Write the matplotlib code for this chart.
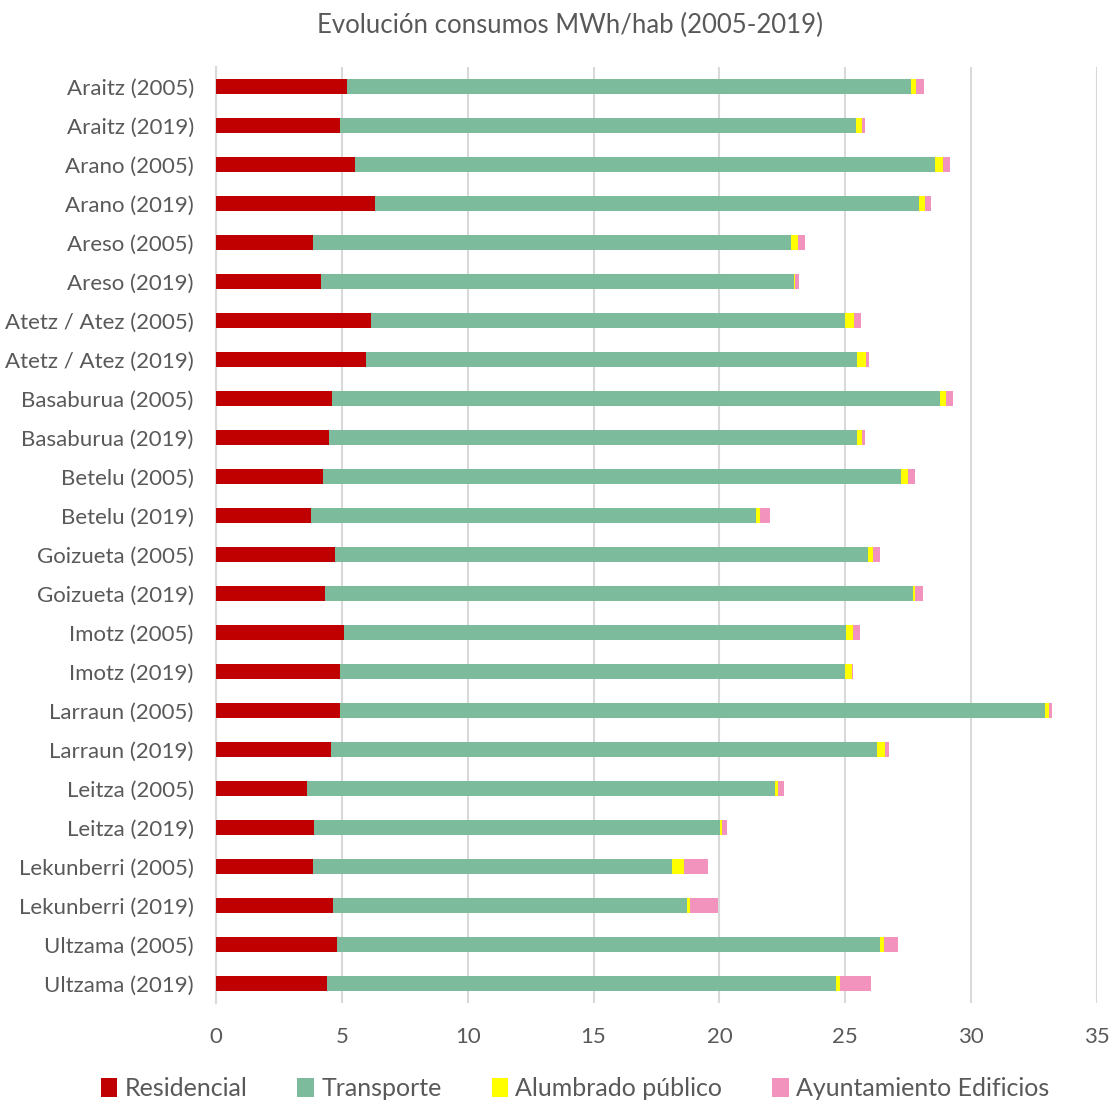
import matplotlib
matplotlib.use("Agg")
import matplotlib.pyplot as plt
import numpy as np

plt.rcParams['font.family'] = ['Lato', 'DejaVu Sans']

categories = [
    "Araitz (2005)", "Araitz (2019)", "Arano (2005)", "Arano (2019)",
    "Areso (2005)", "Areso (2019)", "Atetz / Atez (2005)", "Atetz / Atez (2019)",
    "Basaburua (2005)", "Basaburua (2019)", "Betelu (2005)", "Betelu (2019)",
    "Goizueta (2005)", "Goizueta (2019)", "Imotz (2005)", "Imotz (2019)",
    "Larraun (2005)", "Larraun (2019)", "Leitza (2005)", "Leitza (2019)",
    "Lekunberri (2005)", "Lekunberri (2019)", "Ultzama (2005)", "Ultzama (2019)",
]

residencial = [5.20, 4.93, 5.52, 6.30, 3.84, 4.19, 6.14, 5.96, 4.61, 4.49, 4.24, 3.79,
               4.73, 4.34, 5.09, 4.93, 4.94, 4.57, 3.63, 3.89, 3.85, 4.65, 4.79, 4.41]
transporte = [22.41, 20.51, 23.04, 21.64, 19.00, 18.76, 18.86, 19.51, 24.17, 20.98, 22.98, 17.66,
              21.17, 23.36, 19.93, 20.06, 28.00, 21.68, 18.58, 16.15, 14.27, 14.06, 21.59, 20.22]
alumbrado = [0.21, 0.21, 0.34, 0.21, 0.27, 0.05, 0.33, 0.34, 0.21, 0.20, 0.27, 0.16,
             0.20, 0.08, 0.29, 0.26, 0.15, 0.33, 0.10, 0.05, 0.47, 0.11, 0.17, 0.15]
ayuntamiento = [0.29, 0.12, 0.27, 0.24, 0.29, 0.15, 0.30, 0.13, 0.30, 0.13, 0.29, 0.41,
                0.29, 0.32, 0.29, 0.04, 0.12, 0.17, 0.26, 0.22, 0.95, 1.11, 0.56, 1.23]

series = [
    ("Residencial", residencial, "#C00000"),
    ("Transporte", transporte, "#7CBB9B"),
    ("Alumbrado público", alumbrado, "#FFFF00"),
    ("Ayuntamiento Edificios", ayuntamiento, "#F193BC"),
]

text_color = "#595959"
fig = plt.figure(figsize=(11.12, 11.04), dpi=100)
ax = fig.add_axes([216/1112, 1 - 1003/1104, (1097-216)/1112, (1003-67)/1104])

y = np.arange(len(categories))
left = np.zeros(len(categories))
for name, vals, col in series:
    vals = np.array(vals)
    ax.barh(y, vals, left=left, height=0.4, color=col, label=name, zorder=3, edgecolor='none')
    left += vals

ax.set_ylim(len(categories) - 0.5, -0.5)
ax.set_xlim(0, 35)
ax.set_xticks(np.arange(0, 36, 5))
ax.set_yticks(y)
ax.set_yticklabels(categories)
ax.xaxis.grid(True, color="#D9D9D9", linewidth=1.5, zorder=0)
ax.set_axisbelow(True)
for s in ["top", "right", "bottom"]:
    ax.spines[s].set_visible(False)
ax.spines["left"].set_color("#D9D9D9")
ax.spines["left"].set_linewidth(1.5)
ax.tick_params(axis="both", length=0, labelsize=16, colors=text_color)
ax.tick_params(axis="x", pad=17)
ax.tick_params(axis="y", pad=16)

fig.text(570/1112, 1 - 25/1104, "Evolución consumos MWh/hab (2005-2019)", ha="center", va="center",
         fontsize=18.5, color=text_color)

handles, labels = ax.get_legend_handles_labels()
fig.legend(handles, labels, loc="center", bbox_to_anchor=(575/1112, 1 - 1089/1104), ncol=4,
           frameon=False, fontsize=18, labelcolor=text_color, handlelength=0.65, handleheight=0.8,
           handletextpad=0.3, columnspacing=2.0)

fig.savefig("out.png", dpi=100)
